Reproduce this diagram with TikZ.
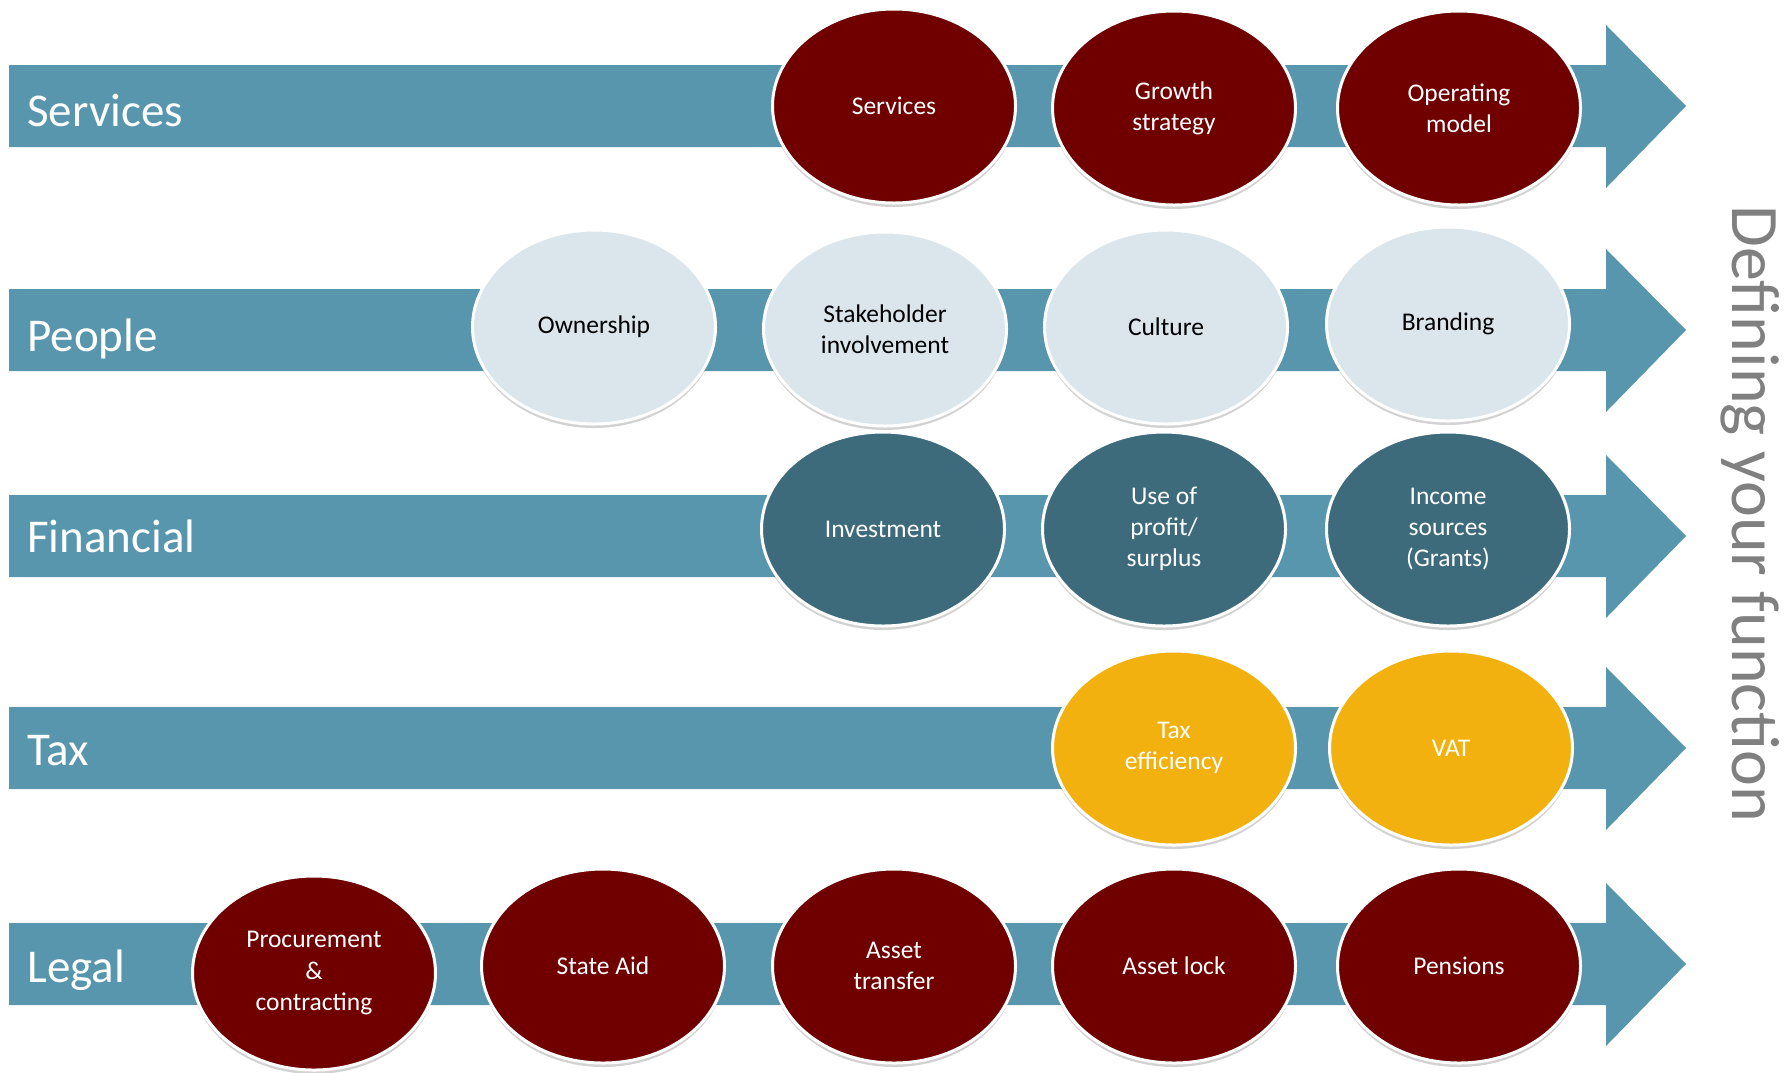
\documentclass[tikz,border=0pt]{standalone}
\definecolor{barblue}{RGB}{88,150,174}
\definecolor{topicred}{RGB}{112,0,0}
\definecolor{topiclight}{RGB}{218,230,236}
\definecolor{topicteal}{RGB}{61,107,123}
\definecolor{topicyellow}{RGB}{242,177,14}
\definecolor{titlegray}{RGB}{128,128,128}
\usepackage{fontspec}
\setmainfont{Carlito}
\usetikzlibrary{shapes.geometric,shadows}

\begin{document}
\begin{tikzpicture}[x=0.5pt,y=-0.5pt]

%
% Styles
%
\tikzstyle{bar}      = [fill=barblue]
\tikzstyle{rowlabel} = [anchor=base west,text=white,inner sep=0pt,font=\fontsize{23.5}{28}\selectfont]
\tikzstyle{topic}    = [ellipse,draw=white,line width=1.5pt,minimum width=121.5pt,minimum height=97pt,inner sep=0pt,align=center,font=\fontsize{12.75}{15.6}\selectfont,drop shadow={shadow xshift=0pt,shadow yshift=-2pt,opacity=0.25,fill=black!70}]
\tikzstyle{redtopic}    = [topic,fill=topicred,text=white]
\tikzstyle{lighttopic}  = [topic,fill=topiclight,text=black]
\tikzstyle{tealtopic}   = [topic,fill=topicteal,text=white]
\tikzstyle{yellowtopic} = [topic,fill=topicyellow,text=white]

\useasboundingbox (0,0) rectangle (1791,1072);

% the five arrows
\fill[bar] (9,65)  -- (1606,65)  -- (1606,25)  -- (1686,106) -- (1606,188)  -- (1606,147)  -- (9,147)  -- cycle;
\fill[bar] (9,289) -- (1606,289) -- (1606,249) -- (1686,330) -- (1606,412)  -- (1606,371)  -- (9,371)  -- cycle;
\fill[bar] (9,495) -- (1606,495) -- (1606,455) -- (1686,536) -- (1606,618)  -- (1606,577)  -- (9,577)  -- cycle;
\fill[bar] (9,707) -- (1606,707) -- (1606,667) -- (1686,748) -- (1606,830)  -- (1606,789)  -- (9,789)  -- cycle;
\fill[bar] (9,923) -- (1606,923) -- (1606,883) -- (1686,964) -- (1606,1046) -- (1606,1005) -- (9,1005) -- cycle;

\node[rowlabel] (services)  at (27,126) {Services};
\node[rowlabel] (people)    at (27,351) {People};
\node[rowlabel] (financial) at (27,552) {Financial};
\node[rowlabel] (tax)       at (27,765) {Tax};
\node[rowlabel] (legal)     at (27,982) {Legal};

% Services
\node[redtopic] (srv)    at (894,106)  {Services};
\node[redtopic] (growth) at (1174,108) {Growth\\strategy};
\node[redtopic] (opmod)  at (1459,108) {Operating\\model};

% People
\node[lighttopic] (owner)  at (594,327)  {Ownership};
\node[lighttopic] (stake)  at (885,329)  {Stakeholder\\involvement};
\node[lighttopic] (cult)   at (1166,327) {Culture};
\node[lighttopic] (brand)  at (1448,324) {Branding};

% Financial
\node[tealtopic] (invest) at (883,529)  {Investment};
\node[tealtopic] (profit) at (1164,529) {Use of\\profit/\\surplus};
\node[tealtopic] (income) at (1448,529) {Income\\sources\\(Grants)};

% Tax
\node[yellowtopic] (taxeff) at (1174,748) {Tax\\efficiency};
\node[yellowtopic] (vat)    at (1451,748) {VAT};

% Legal
\node[redtopic] (procure)  at (314,973)  {Procurement\\\&\\contracting};
\node[redtopic] (stateaid) at (603,966)  {State Aid};
\node[redtopic] (transfer) at (894,966)  {Asset\\transfer};
\node[redtopic] (lock)     at (1174,966) {Asset lock};
\node[redtopic] (pension)  at (1459,966) {Pensions};

\node[rotate=-90,text=titlegray,font=\fontsize{34}{40}\selectfont] (title) at (1750,514) {Defining your function};

\end{tikzpicture}
\end{document}
